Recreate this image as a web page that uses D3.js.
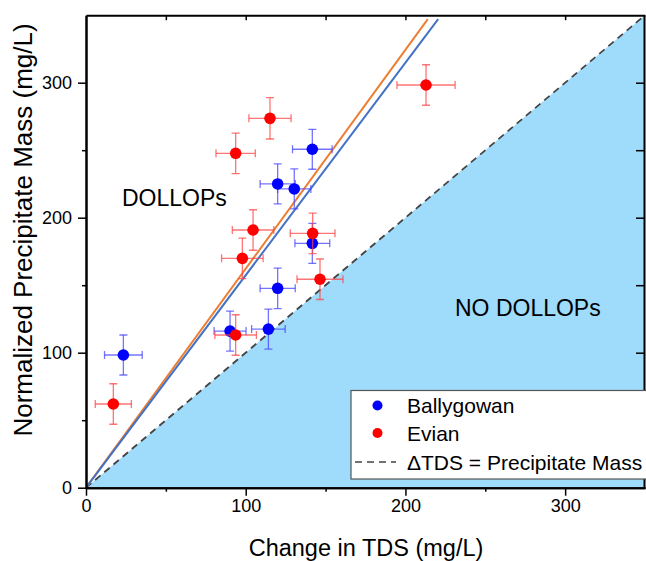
<!DOCTYPE html>
<html>
<head>
<meta charset="utf-8">
<script src="https://cdn.jsdelivr.net/npm/d3@7"></script>
<style>
  body { margin: 0; background: #fff; }
  svg text { font-family: Arial, "Liberation Sans", sans-serif; fill: #000; }
</style>
</head>
<body>
<svg id="chart" width="646" height="561"></svg>
<script>
// Ballygowan: x, y, x error, y error
const ballyX = [23.4, 141.7, 120, 130.4, 141.7, 120, 90.2, 114.2];
const ballyY = [98.3, 250.7, 225, 221.3, 181, 147.7, 116, 117.5];
const ballyXErr = [11.8, 12.4, 11, 10.4, 10.9, 11, 10, 10.5];
const ballyYErr = [14.8, 14.8, 14.8, 14.8, 14.8, 15, 14.8, 14.8];

// Evian
const evianX = [17.1, 93.7, 97.9, 146.5, 104.6, 141.9, 93.7, 115.2, 212.9];
const evianY = [62, 113.1, 169.9, 154.4, 190.9, 188.4, 247.7, 273.6, 298.3];
const evianXErr = [11.3, 13, 13, 14.4, 13, 14, 12.3, 13.2, 18.2];
const evianYErr = [15, 15, 15, 15, 15, 15, 15, 15.3, 15];

// linear fits through origin: [slope, end x]
const fitEvian = [1.622, 214];
const fitBally = [1.574, 220.5];

const majorTicks = [0, 100, 200, 300];
const minorTicks = [50, 150, 250];
const allTicks = [0, 50, 100, 150, 200, 250, 300];

const svg = d3.select("#chart");
const x = d3.scaleLinear().domain([0, 350]).range([86, 645]);
const y = d3.scaleLinear().domain([0, 350]).range([487.7, 15.2]);

svg.append("clipPath").attr("id", "clip")
  .append("rect").attr("x", 86).attr("y", 15.2).attr("width", 559).attr("height", 472.5);

const plot = svg.append("g").attr("clip-path", "url(#clip)");

// NO DOLLOPs region below y = x
plot.append("path")
  .datum([[0, 0], [350, 350], [350, 0]])
  .attr("d", d3.line().x(d => x(d[0])).y(d => y(d[1])))
  .attr("fill", "#9fdbfb");

plot.append("line")
  .attr("x1", x(0)).attr("y1", y(0)).attr("x2", x(350)).attr("y2", y(350))
  .attr("stroke", "#444").attr("stroke-width", 1.8).attr("stroke-dasharray", "7,5");

// fit lines
[[fitEvian, "#ed7d31"], [fitBally, "#4472c4"]].forEach(function (f) {
  plot.append("line")
    .attr("x1", x(0)).attr("y1", y(0))
    .attr("x2", x(f[0][1])).attr("y2", y(f[0][0] * f[0][1]))
    .attr("stroke", f[1]).attr("stroke-width", 2);
});

svg.append("text").attr("x", 122).attr("y", 206).style("font-size", "23px").text("DOLLOPs");
svg.append("text").attr("x", 455).attr("y", 316).style("font-size", "23px").text("NO DOLLOPs");

function drawSeries(xs, ys, xe, ye, color, barColor) {
  const pts = xs.map((v, i) => ({ x: v, y: ys[i], xe: xe[i], ye: ye[i] }));
  const g = plot.append("g");
  const cap = 4;
  pts.forEach(function (d) {
    const eg = g.append("g").attr("stroke", barColor).attr("stroke-width", 1.3);
    eg.append("line").attr("x1", x(d.x - d.xe)).attr("x2", x(d.x + d.xe)).attr("y1", y(d.y)).attr("y2", y(d.y));
    eg.append("line").attr("x1", x(d.x)).attr("x2", x(d.x)).attr("y1", y(d.y - d.ye)).attr("y2", y(d.y + d.ye));
    eg.append("line").attr("x1", x(d.x - d.xe)).attr("x2", x(d.x - d.xe)).attr("y1", y(d.y) - cap).attr("y2", y(d.y) + cap);
    eg.append("line").attr("x1", x(d.x + d.xe)).attr("x2", x(d.x + d.xe)).attr("y1", y(d.y) - cap).attr("y2", y(d.y) + cap);
    eg.append("line").attr("x1", x(d.x) - cap).attr("x2", x(d.x) + cap).attr("y1", y(d.y - d.ye)).attr("y2", y(d.y - d.ye));
    eg.append("line").attr("x1", x(d.x) - cap).attr("x2", x(d.x) + cap).attr("y1", y(d.y + d.ye)).attr("y2", y(d.y + d.ye));
  });
  g.selectAll("circle").data(pts).join("circle")
    .attr("cx", d => x(d.x)).attr("cy", d => y(d.y)).attr("r", 5.8)
    .attr("fill", color);
}
drawSeries(ballyX, ballyY, ballyXErr, ballyYErr, "#0000ff", "rgba(70,70,255,0.75)");
drawSeries(evianX, evianY, evianXErr, evianYErr, "#ff0000", "rgba(255,70,70,0.75)");

// axes
function styleAxis(g) {
  g.select(".domain").attr("stroke", "#000").attr("stroke-width", 2);
  g.selectAll(".tick line").attr("stroke", "#000").attr("stroke-width", 1.5);
  g.selectAll(".tick text").style("font-size", "18px").attr("font-family", null);
}
const bottom = svg.append("g").attr("transform", `translate(0,${y(0)})`)
  .call(d3.axisBottom(x).tickValues(majorTicks).tickSize(8).tickSizeOuter(0).tickPadding(4).tickFormat(d3.format("d")))
  .call(styleAxis);
svg.append("g").attr("transform", `translate(0,${y(0)})`)
  .call(d3.axisBottom(x).tickValues(minorTicks).tickSize(4).tickSizeOuter(0).tickFormat(""))
  .call(styleAxis);
svg.append("g").attr("transform", `translate(${x(0)},0)`)
  .call(d3.axisLeft(y).tickValues(majorTicks).tickSize(8).tickSizeOuter(0).tickPadding(6).tickFormat(d3.format("d")))
  .call(styleAxis);
svg.append("g").attr("transform", `translate(${x(0)},0)`)
  .call(d3.axisLeft(y).tickValues(minorTicks).tickSize(4).tickSizeOuter(0).tickFormat(""))
  .call(styleAxis);
svg.append("g").attr("transform", `translate(0,${y(350)})`)
  .call(d3.axisTop(x).tickValues(allTicks.slice(1)).tickSize(-5).tickSizeOuter(0).tickFormat(""))
  .call(styleAxis);
svg.append("g").attr("transform", `translate(${x(350) - 1},0)`)
  .call(d3.axisRight(y).tickValues(allTicks.slice(1)).tickSize(-8).tickSizeOuter(0).tickFormat(""))
  .call(styleAxis);
bottom.selectAll(".tick text").attr("dy", "0.71em");

// axis titles
svg.append("text").attr("x", 366).attr("y", 556).attr("text-anchor", "middle")
  .style("font-size", "23.5px").text("Change in TDS (mg/L)");
svg.append("text").attr("transform", "translate(32,230) rotate(-90)").attr("text-anchor", "middle")
  .style("font-size", "26px").text("Normalized Precipitate Mass (mg/L)");

// legend
const leg = svg.append("g");
leg.append("rect").attr("x", 351).attr("y", 390.5).attr("width", 300).attr("height", 88.5)
  .attr("fill", "#fff").attr("stroke", "#555").attr("stroke-width", 1.2);
const legItems = [["Ballygowan", "#0000ff"], ["Evian", "#ff0000"]];
legItems.forEach(function (it, i) {
  const cy = 405.5 + i * 27.5;
  leg.append("circle").attr("cx", 377.5).attr("cy", cy).attr("r", 5).attr("fill", it[1]);
  leg.append("text").attr("x", 407).attr("y", cy + 7.5).style("font-size", "21px").text(it[0]);
});
leg.append("line").attr("x1", 355).attr("x2", 396).attr("y1", 462).attr("y2", 462)
  .attr("stroke", "#444").attr("stroke-width", 1.5).attr("stroke-dasharray", "7,5");
leg.append("text").attr("x", 407).attr("y", 469.5).style("font-size", "21px").text("\u0394TDS = Precipitate Mass");
</script>
</body>
</html>
